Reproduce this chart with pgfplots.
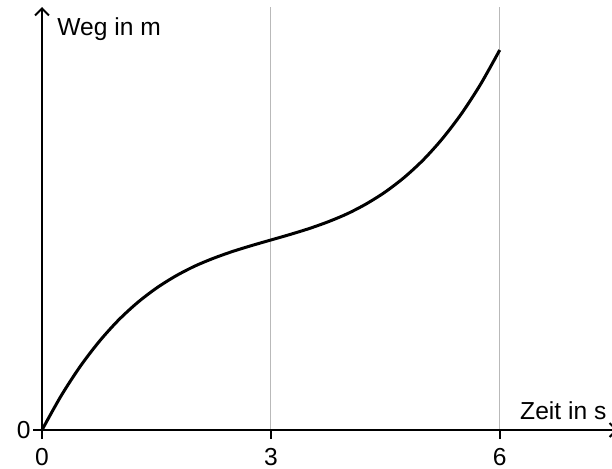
\documentclass[border=0pt]{standalone}
\usepackage{fontspec}
\setmainfont{Liberation Sans}
\usepackage{pgfplots}
\pgfplotsset{compat=1.18}
\usetikzlibrary{arrows.meta}

\begin{document}
\begin{tikzpicture}[font=\fontsize{12.3}{14}\selectfont]
\begin{axis}[
  at={(0,0)}, anchor=south west,
  scale only axis,
  width=288pt, height=211.5pt,
  xmin=0, xmax=7.55,
  ymin=0, ymax=423,
  axis lines=left,
  axis line style={line width=1pt, -{Straight Barb[length=3.5pt,width=7pt]}},
  xtick={0,3,6}, ytick={0},
  tick align=outside,
  major tick length=4.5pt,
  tick style={line width=1pt, black},
  xmajorgrids,
  grid style={gray!55, line width=0.5pt},
  /pgf/number format/assume math mode=true,
  xticklabel style={inner sep=1pt, yshift=-3.5pt},
  yticklabel style={inner sep=1pt},
  clip=false,
]
\addplot[black, line width=1.5pt, smooth] coordinates {
  (0,0) (0.25,34.1) (0.5,63.5) (0.75,88.5) (1,109.7) (1.25,127.3)
  (1.5,141.9) (1.75,153.9) (2,163.8) (2.25,171.8) (2.5,178.6) (2.75,184.5)
  (3,190) (3.25,195.5) (3.5,201.4) (3.75,208.2) (4,216.2) (4.25,226.1)
  (4.5,238.1) (4.75,252.7) (5,270.3) (5.25,291.5) (5.5,316.5) (5.75,345.9)
  (6,380)
};
\node[anchor=west] at (axis cs:0.11,401) {Weg in m};
\node[anchor=east] at (axis cs:7.49,19) {Zeit in s};
\end{axis}
\pgfresetboundingbox
\path (-21pt,-19pt) rectangle (285pt,215pt);
\end{tikzpicture}
\end{document}
